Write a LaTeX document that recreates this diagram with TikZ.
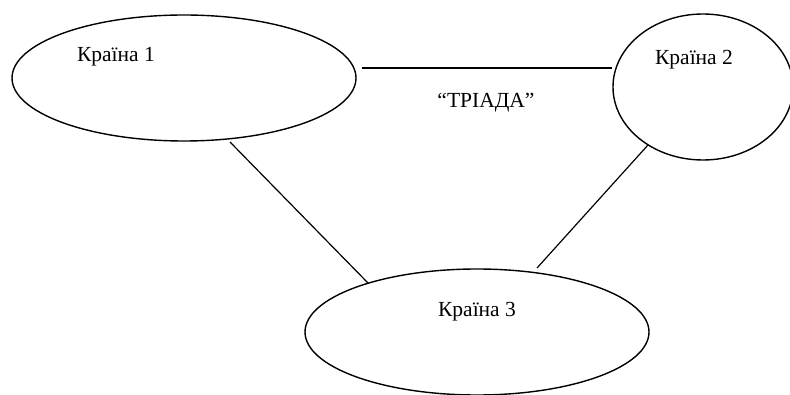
\documentclass[tikz,border=0pt]{standalone}
\usepackage{fontspec}
\setmainfont{Liberation Serif}
\usetikzlibrary{shapes.geometric}
\begin{document}
\begin{tikzpicture}[x=1pt,y=-1pt,
  country/.style={draw, ellipse, line width=1.4pt, inner sep=0pt},
  wide/.style={minimum width=344pt, minimum height=126pt},
  tall/.style={minimum width=180pt, minimum height=146pt},
  caption/.style={font=\fontsize{21.5}{25}\selectfont, inner sep=0pt},
  link/.style={line width=1.2pt}]
\useasboundingbox (0,0) rectangle (790,395);

% the three countries
\node[country, wide] (c1) at (184,78) {};
\node[country, tall] (c2) at (703,87) {};
\node[country, wide] (c3) at (477,332) {};

\node[caption] (t1) at (116,57) {Країна 1};
\node[caption] (t2) at (694,60) {Країна 2};
\node[caption] (t3) at (477,312) {Країна 3};
\node[caption] (tr) at (486,103) {“ТРІАДА”};

% connector end points
\coordinate (a1) at (362,68);
\coordinate (a2) at (612,68);
\coordinate (b1) at (230,142);
\coordinate (b3) at (368,283);
\coordinate (d2) at (648,145);
\coordinate (d3) at (537,268);

\draw[link] (a1) -- (a2);
\draw[link] (b1) -- (b3);
\draw[link] (d2) -- (d3);
\end{tikzpicture}
\end{document}
